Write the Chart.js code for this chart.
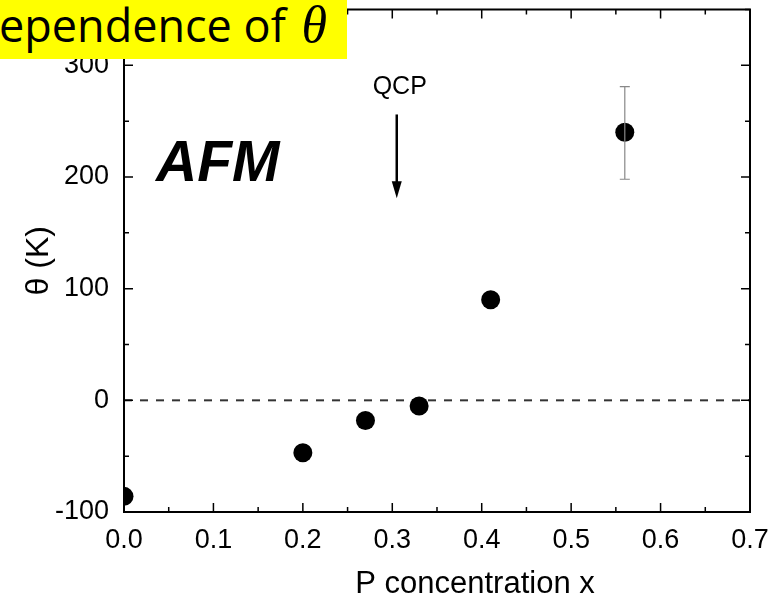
<!DOCTYPE html>
<html>
<head>
<meta charset="utf-8">
<script src="https://cdn.jsdelivr.net/npm/chart.js@4.4.1/dist/chart.umd.min.js"></script>
<style>
  body { margin: 0; background: #fff; }
  #wrap { position: relative; width: 781px; height: 599px; overflow: hidden; }
  #banner {
    position: absolute; left: 0; top: 0; width: 347px; height: 59px;
    background: #ffff00; overflow: hidden; white-space: nowrap;
  }
  #banner span {
    position: absolute; left: -1px; top: -5px; line-height: 59px;
    font-family: "Open Sans", sans-serif; font-size: 45px; color: #000;
  }
  #banner i { font-family: "Liberation Serif", serif; font-size: 52px; margin-left: 4px; }
</style>
</head>
<body>
<div id="wrap">
  <canvas id="grafico" width="781" height="599"></canvas>
  <div id="banner"><span>ependence of <i>θ</i></span></div>
</div>
<script>
// dados
const concentracao = [0, 0.2, 0.27, 0.33, 0.41, 0.56];
const theta = [-86, -47, -18, -5, 90, 240];
const erroMin = [null, null, null, null, null, 198];
const erroMax = [null, null, null, null, null, 281];
const xTicks = [0, 0.1, 0.2, 0.3, 0.4, 0.5, 0.6, 0.7];
const yTicks = [-100, 0, 100, 200, 300];
const qcp = { x: 0.305, yTopo: 256, yBase: 181 };

const pontos = concentracao.map((x, i) => ({ x: x, y: theta[i] }));
const fonte = '"Liberation Sans", Arial, sans-serif';

const ehMaior = (v, lista) => lista.some(t => Math.abs(t - v) < 1e-6);

// moldura, marcas internas, barra de erro, seta QCP e textos
const extras = {
    id: 'extras',
    afterDatasetsDraw(chart) {
        const { ctx, chartArea: a, scales: { x, y } } = chart;
        ctx.save();
        // barra de erro
        ctx.strokeStyle = '#888';
        ctx.lineWidth = 1.2;
        concentracao.forEach((cx, i) => {
            if (erroMin[i] == null) return;
            const px = x.getPixelForValue(cx);
            const p1 = y.getPixelForValue(erroMin[i]);
            const p2 = y.getPixelForValue(erroMax[i]);
            ctx.beginPath();
            ctx.moveTo(px, p1); ctx.lineTo(px, p2);
            ctx.moveTo(px - 5, p1); ctx.lineTo(px + 5, p1);
            ctx.moveTo(px - 5, p2); ctx.lineTo(px + 5, p2);
            ctx.stroke();
        });

        // moldura
        ctx.strokeStyle = '#000';
        ctx.lineWidth = 2;
        ctx.strokeRect(a.left, a.top, a.right - a.left, a.bottom - a.top);
        ctx.lineWidth = 1.5;
        x.ticks.forEach(t => {
            const px = x.getPixelForValue(t.value);
            const len = ehMaior(t.value, xTicks) ? 9 : 5;
            ctx.beginPath();
            ctx.moveTo(px, a.bottom); ctx.lineTo(px, a.bottom - len);
            ctx.moveTo(px, a.top); ctx.lineTo(px, a.top + len);
            ctx.stroke();
        });
        y.ticks.forEach(t => {
            const py = y.getPixelForValue(t.value);
            const len = ehMaior(t.value, yTicks) ? 9 : 5;
            ctx.beginPath();
            ctx.moveTo(a.left, py); ctx.lineTo(a.left + len, py);
            ctx.moveTo(a.right, py); ctx.lineTo(a.right - len, py);
            ctx.stroke();
        });

        // seta QCP
        const ax = x.getPixelForValue(qcp.x);
        const ay1 = y.getPixelForValue(qcp.yTopo);
        const ay2 = y.getPixelForValue(qcp.yBase);
        ctx.lineWidth = 2.5;
        ctx.beginPath();
        ctx.moveTo(ax, ay1); ctx.lineTo(ax, ay2 - 14);
        ctx.stroke();
        ctx.fillStyle = '#000';
        ctx.beginPath();
        ctx.moveTo(ax - 5, ay2 - 17);
        ctx.lineTo(ax + 5, ay2 - 17);
        ctx.lineTo(ax, ay2);
        ctx.closePath();
        ctx.fill();

        ctx.font = '25px ' + fonte;
        ctx.textAlign = 'center';
        ctx.textBaseline = 'alphabetic';
        ctx.fillText('QCP', ax + 3, ay1 - 20);

        ctx.font = 'italic bold 57px ' + fonte;
        ctx.textAlign = 'left';
        ctx.fillText('AFM', 156, 181);

        // título do eixo x (deslocado à direita como no original)
        ctx.font = '31px ' + fonte;
        ctx.textAlign = 'center';
        ctx.fillText('P concentration x', 475, 593);
        ctx.restore();
    }
};

new Chart(document.getElementById('grafico'), {
    type: 'scatter',
    data: {
        datasets: [{
            data: pontos,
            pointRadius: 9.5,
            pointHoverRadius: 9.5,
            backgroundColor: '#000',
            borderWidth: 0
        }, {
            type: 'line',
            data: [{ x: 0, y: 0 }, { x: 0.7, y: 0 }],
            borderColor: '#333',
            borderWidth: 2,
            borderDash: [8, 8],
            pointRadius: 0,
            fill: false
        }]
    },
    options: {
        responsive: false,
        animation: false,
        events: [],
        layout: { padding: { top: 9, right: 31, left: 0, bottom: 0 } },
        plugins: { legend: { display: false }, tooltip: { enabled: false } },
        scales: {
            x: {
                type: 'linear',
                min: 0, max: 0.7,
                grid: { display: false },
                border: { display: false },
                ticks: {
                    stepSize: 0.05,
                    autoSkip: false,
                    maxRotation: 0,
                    padding: 4,
                    color: '#000',
                    font: { family: fonte, size: 27 },
                    callback: v => ehMaior(v, xTicks) ? v.toFixed(1) : ''
                },
                afterFit: s => { s.height = 87; s.paddingLeft = 0; s.paddingRight = 0; }
            },
            y: {
                min: -100, max: 350,
                grid: { display: false },
                border: { display: false },
                ticks: {
                    stepSize: 50,
                    autoSkip: false,
                    padding: 7,
                    color: '#000',
                    font: { family: fonte, size: 27 },
                    callback: v => ehMaior(v, yTicks) ? String(v) : ''
                },
                title: {
                    display: true,
                    text: 'θ (K)',
                    color: '#000',
                    font: { family: fonte, size: 32 },
                    padding: { top: 20, bottom: 0 }
                },
                afterFit: s => { s.width = 124; s.paddingTop = 0; s.paddingBottom = 0; }
            }
        }
    },
    plugins: [extras]
});
</script>
</body>
</html>
